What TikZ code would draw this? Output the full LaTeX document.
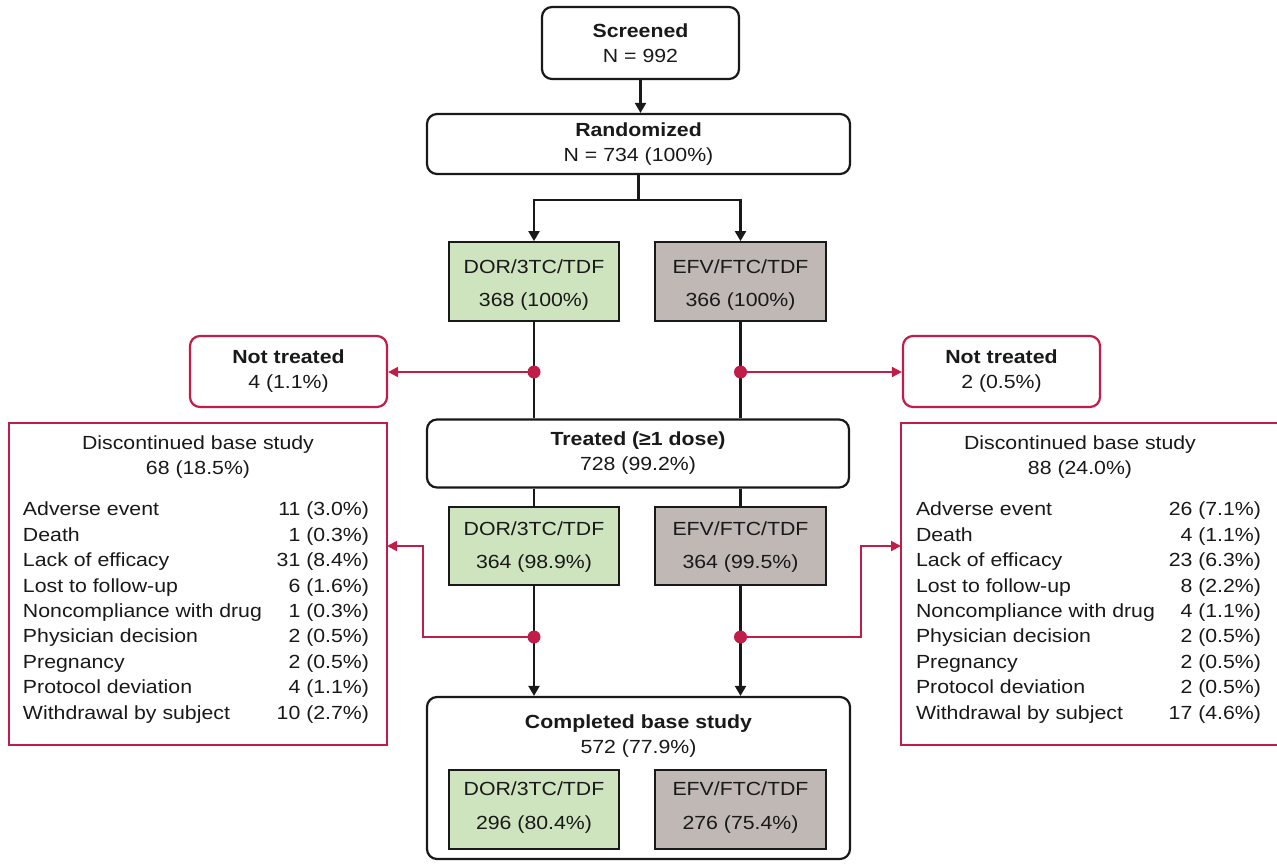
\documentclass[tikz,border=0pt]{standalone}
\usepackage{fontspec}
\setmainfont[FakeStretch=1.12]{Liberation Sans}
\usetikzlibrary{arrows.meta}
\definecolor{rd}{RGB}{192,30,72}
\definecolor{gfill}{RGB}{205,228,190}
\definecolor{bfill}{RGB}{191,184,181}
\definecolor{ink}{RGB}{25,25,25}
\begin{document}
\begin{tikzpicture}[x=1pt,y=-1pt,
  txt/.style={font=\fontsize{19}{25}\selectfont, align=center, text=ink, inner sep=0},
  wbox/.style={txt, draw=ink, line width=2.2pt, rounded corners=10pt, fill=white},
  rbox/.style={txt, draw=rd, line width=2.2pt, rounded corners=10pt, fill=white},
  rrect/.style={draw=rd, line width=2.2pt, fill=white, inner sep=0},
  gbox/.style={draw=ink, line width=1.8pt, fill=gfill, minimum width=170, minimum height=79, inner sep=0},
  bbox/.style={draw=ink, line width=1.8pt, fill=bfill, minimum width=171, minimum height=79, inner sep=0},
  blk/.style={draw=ink, line width=2.2pt},
  arr/.style={blk, -{Triangle[length=10pt,width=11pt]}},
  redarr/.style={draw=rd, line width=2pt, -{Triangle[length=10pt,width=10pt]}},
  tab/.style={font=\fontsize{19}{25.4}\selectfont, text=ink, inner sep=0}
]
\useasboundingbox (0,0) rectangle (1277,863);

% main column
\node[wbox, minimum width=197, minimum height=72] (scr) at (640.5,43) {\textbf{Screened}\\N = 992};
\node[wbox, minimum width=423, minimum height=60] (rand) at (638.5,144) {\textbf{Randomized}\\N = 734 (100\%)};
\node[gbox, label={[txt,yshift=-4pt]center:{DOR/3TC/TDF\\[8pt]368 (100\%)}}] (g1) at (534,281.5) {};
\node[bbox, label={[txt,yshift=-4pt]center:{EFV/FTC/TDF\\[8pt]366 (100\%)}}] (b1) at (740.5,281.5) {};
\node[wbox, minimum width=422, minimum height=68] (treat) at (638,453.5) {\textbf{Treated (≥1 dose)}\\728 (99.2\%)};
\node[gbox, minimum height=78, label={[txt,yshift=-1pt]center:{DOR/3TC/TDF\\[8pt]364 (98.9\%)}}] (g2) at (534,546) {};
\node[bbox, minimum height=78, label={[txt,yshift=-1pt]center:{EFV/FTC/TDF\\[8pt]364 (99.5\%)}}] (b2) at (740.5,546) {};
\node[wbox, minimum width=423, minimum height=162] (comp) at (638.5,778) {};
\node[txt] (compt) at (638.5,736) {\textbf{Completed base study}\\572 (77.9\%)};
\node[gbox, label={[txt,yshift=2pt]center:{DOR/3TC/TDF\\[9pt]296 (80.4\%)}}] (g3) at (534,809.5) {};
\node[bbox, label={[txt,yshift=2pt]center:{EFV/FTC/TDF\\[9pt]276 (75.4\%)}}] (b3) at (740.5,809.5) {};

% not treated
\node[rbox, minimum width=197, minimum height=71] (nt1) at (288.5,371.5) {\textbf{Not treated}\\4 (1.1\%)};
\node[rbox, minimum width=197, minimum height=71] (nt2) at (1001.5,371.5) {\textbf{Not treated}\\2 (0.5\%)};

% discontinued boxes
\node[rrect, minimum width=378, minimum height=322] (dl) at (198,584) {};
\node[rrect, minimum width=379, minimum height=322] (dr) at (1090.5,584) {};
\node[txt] (dlt) at (198,457) {Discontinued base study\\68 (18.5\%)};
\node[txt] (drt) at (1080,457) {Discontinued base study\\88 (24.0\%)};
\node[tab] (dltab) at (196,612.5) {\begin{tabular*}{346pt}{@{}l@{\extracolsep{\fill}}r@{}}
Adverse event & 11 (3.0\%)\\
Death & 1 (0.3\%)\\
Lack of efficacy & 31 (8.4\%)\\
Lost to follow-up & 6 (1.6\%)\\
Noncompliance with drug & 1 (0.3\%)\\
Physician decision & 2 (0.5\%)\\
Pregnancy & 2 (0.5\%)\\
Protocol deviation & 4 (1.1\%)\\
Withdrawal by subject & 10 (2.7\%)
\end{tabular*}};
\node[tab] (drtab) at (1088.5,612.5) {\begin{tabular*}{345pt}{@{}l@{\extracolsep{\fill}}r@{}}
Adverse event & 26 (7.1\%)\\
Death & 4 (1.1\%)\\
Lack of efficacy & 23 (6.3\%)\\
Lost to follow-up & 8 (2.2\%)\\
Noncompliance with drug & 4 (1.1\%)\\
Physician decision & 2 (0.5\%)\\
Pregnancy & 2 (0.5\%)\\
Protocol deviation & 2 (0.5\%)\\
Withdrawal by subject & 17 (4.6\%)
\end{tabular*}};

% black connectors
\draw[arr] (scr.south) -- (scr.south |- rand.north);
\coordinate (br) at (638.5,200);
\draw[blk] (rand.south) -- (br);
\draw[arr] (br) -| (g1.north);
\draw[arr] (br) -| (b1.north);
\draw[blk] (g1.south) -- (g1.south |- treat.north);
\draw[blk] (b1.south) -- (b1.south |- treat.north);
\draw[blk] (g2.south |- treat.south) -- (g2.north);
\draw[blk] (b2.south |- treat.south) -- (b2.north);
\draw[arr] (g2.south) -- (g2.south |- comp.north);
\draw[arr] (b2.south) -- (b2.south |- comp.north);

% red connectors
\coordinate (d1) at (534,372);
\coordinate (d2) at (740.5,372);
\coordinate (d3) at (534,637);
\coordinate (d4) at (740.5,637);
\coordinate (c3) at (423,637);
\coordinate (c4) at (861,637);
\coordinate (in3) at (387,546);
\coordinate (in4) at (901,546);
\draw[redarr] (d1) -- (nt1.east |- d1);
\draw[redarr] (d2) -- (nt2.west |- d2);
\draw[redarr] (d3) -- (c3) |- (in3);
\draw[redarr] (d4) -- (c4) |- (in4);
\foreach \d in {d1,d2,d3,d4} \fill[rd] (\d) circle (6.5);
\end{tikzpicture}
\end{document}
